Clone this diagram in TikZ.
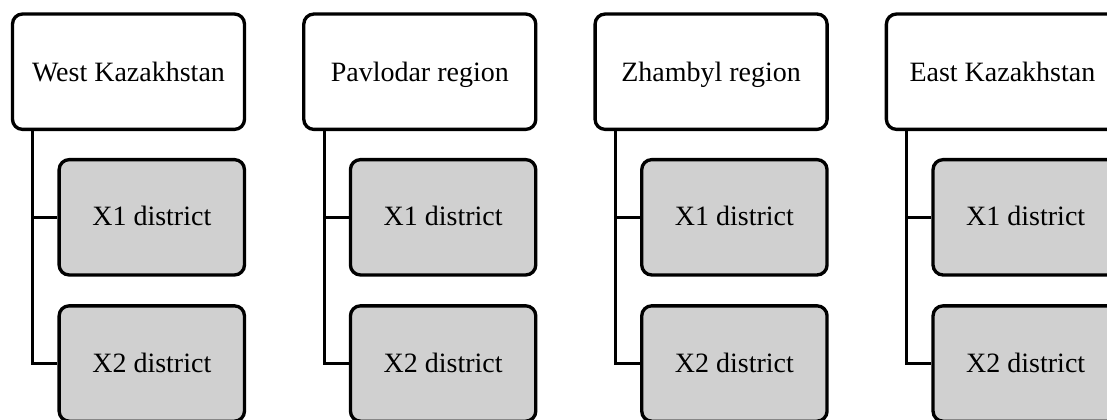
\documentclass[tikz,border=0pt]{standalone}
\usepackage{fontspec}
\setmainfont{Liberation Serif}
\usetikzlibrary{calc}
\definecolor{districtfill}{RGB}{208,208,208}
\tikzset{
  regionbox/.style={draw=black, line width=2.5pt, rounded corners=7.5pt, fill=white,
    minimum width=174pt, minimum height=86.5pt, inner sep=0pt,
    text height=15.4pt, text depth=0pt,
    font=\fontsize{21pt}{25pt}\selectfont},
  districtbox/.style={regionbox, fill=districtfill, minimum width=139pt,
    text height=13pt},
  link/.style={draw=black, line width=2.3pt}
}
\begin{document}
\begin{tikzpicture}[x=0.75pt, y=-0.75pt]
  \useasboundingbox (0,0) rectangle (1107,419);
  \foreach \i/\name in {0/West Kazakhstan, 1/Pavlodar region, 2/Zhambyl region, 3/East Kazakhstan} {
    \node[regionbox] (r\i) at ({128.5+291.3*\i}, 71.7) {\name};
    \node[districtbox] (a\i) at ({151.8+291.3*\i}, 217.3) {X1 district};
    \node[districtbox] (b\i) at ({151.8+291.3*\i}, 363.5) {X2 district};
    \coordinate (k\i) at ($(r\i.south west)+(22,0)$);
    \draw[link] (k\i) |- (b\i.west);
    \draw[link] (a\i.west) -| (k\i);
  }
\end{tikzpicture}
\end{document}
